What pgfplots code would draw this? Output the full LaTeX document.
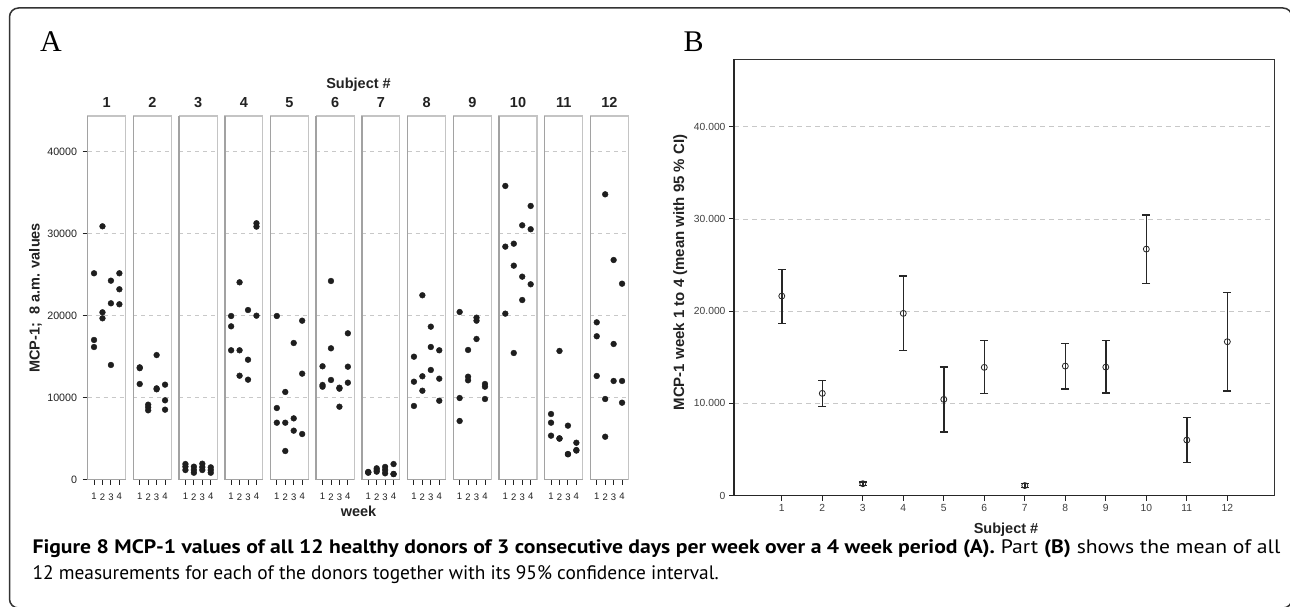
\documentclass[border=0pt]{standalone}
\usepackage{pgfplots}
\pgfplotsset{compat=1.18}
\usepackage{pgfplotstable}
\usepackage{fontspec}
\setmainfont{Liberation Sans}
\newfontfamily\letterfont{Liberation Serif}
\newfontfamily\capfont{PT Sans}

\definecolor{dotcol}{HTML}{1E1E1E}
\definecolor{framecol}{HTML}{C4C4C4}
\definecolor{frameleft}{HTML}{A2A2A2}
\definecolor{gridcol}{HTML}{C8C8C8}
\definecolor{txtcol}{HTML}{222222}

% panel A: 3 days per week x 4 weeks, one column per subject
\pgfplotstableread{
w   s1    s2    s3   s4    s5    s6    s7   s8    s9    s10   s11   s12
1 25170 13700 1910 19960 19960 13830  950 15000 20450 35820  8010 19190
1 17040 13600 1590 18700  8740 11550  900 11950  9960 28420  6950 17490
1 16180 11670 1180 15780  6950 11340  850  8990  7160 20250  5370 12650
2 30900  9150 1590 24070 10700 24230 1390 22490 15820 28780 15700 34800
2 20410  8830 1180 15780  6950 16020 1180 12610 12560 26100  5050  9840
2 19680  8460  850 12680  3500 12160  980 10850 12120 15450  5000  5240
3 24270 15200 1950 20690 16670 11220 1560 18660 19760 31020  6590 26790
3 21510 11140 1540 14630  7480 11100 1180 16180 19390 24760  3130 16550
3 13990 11020 1180 12200  5980  8900  780 13380 17160 21910  3100 12040
4 25170 11590 1510 31270 19390 17850 1910 15780 11670 33380  4510 23900
4 23220  9680 1180 30860 12930 13780  700 12320 11340 30540  3620 12040
4 21390  8540  850 20000  5570 11830  680  9630  9840 23830  3550  9390
}\dataA

% panel B: mean with 95% CI
\pgfplotstableread{
s  m     ep   em
1  21640 2890 2960
2  11090 1410 1400
3  1300  200  200
4  19760 4040 4050
5  10440 3500 3540
6  13910 2880 2860
7  1100  230  230
8  14050 2420 2490
9  13940 2850 2810
10 26730 3680 3720
11 6030  2420 2450
12 16690 5350 5350
}\dataB

\pgfplotsset{
  panelA/.style={
    scale only axis, width=38pt, height=363.7pt, anchor=south west,
    xmin=0.25, xmax=4.75, ymin=0, ymax=44350, scaled y ticks=false,
    axis line style={framecol, line width=1.1pt},
    xtick={1,2,3,4}, xticklabels={1,2,3,4},
    xtick pos=bottom, ytick pos=left, tick align=outside, major tick length=5pt,
    xtick style={txtcol, line width=0.9pt},
    xticklabel style={font=\fontsize{9.5}{10}\selectfont, text=txtcol, inner sep=0pt, yshift=-8.5pt},
    ytick={0,10000,20000,30000,40000}, yticklabels={},
    ytick style={draw=none},
    ymajorgrids, grid style={gridcol, dash pattern=on 4pt off 4pt, line width=0.7pt},
    title style={font=\fontsize{14.5}{15}\selectfont\bfseries, text=txtcol,
      at={(0.5,1)}, anchor=base, yshift=2.7pt, inner sep=0pt},
    clip=false,
  },
  panelextra/.style={},
}

\begin{document}
\begin{tikzpicture}[x=1pt,y=1pt]
\useasboundingbox (0,0) rectangle (1290,606);
\clip (0,0) rectangle (1290,606);
\fill[white] (0,0) rectangle (1290,606);
\draw[black!80, line width=1.5pt, rounded corners=9pt] (9.5,-2) rectangle (1292,598);

\node[anchor=base west, inner sep=0pt, font=\letterfont\fontsize{30}{30}\selectfont] at (40,554.3) {A};
\node[anchor=base west, inner sep=0pt, font=\letterfont\fontsize{30}{30}\selectfont] at (683.3,554.3) {B};

\foreach \i in {1,...,12}{
  \ifnum\i=1
    \pgfplotsset{panelextra/.style={
      yticklabels={0,10000,20000,30000,40000},
      ytick style={draw=txtcol, line width=0.9pt},
      yticklabel style={font=\fontsize{10.7}{12}\selectfont, text=txtcol, inner sep=0pt, xshift=-5.4pt}}}
  \fi
  \begin{axis}[panelA, panelextra, at={(87.7pt+\i*45.7pt-45.7pt,126.3pt)}, title={\i}]
    \addplot[only marks, mark=*, mark size=2.9pt, mark options={fill=dotcol, draw=dotcol}]
      table[x=w, y=s\i] {\dataA};
    \draw[frameleft, line width=1.5pt] (rel axis cs:0,1) -- (rel axis cs:0,0) -- (rel axis cs:1,0);
  \end{axis}
}

\node[anchor=base, inner sep=0pt, font=\fontsize{14.5}{15}\selectfont\bfseries, text=txtcol] at (358.5,517.3) {Subject \#};
\node[anchor=base, inner sep=0pt, font=\fontsize{14.5}{15}\selectfont\bfseries, text=txtcol] at (358.5,90) {week};
\node[anchor=base, rotate=90, inner sep=0pt, font=\fontsize{14.5}{15}\selectfont\bfseries, text=txtcol] at (39.5,308.2) {MCP-1;\ \ 8 a.m. values};

\begin{axis}[
  scale only axis, width=540.3pt, height=436.4pt,
  at={(734pt,110.3pt)}, anchor=south west,
  xmin=-0.18, xmax=13.16, ymin=0, ymax=47300, scaled y ticks=false,
  xtick={1,...,12}, ytick={0,10000,20000,30000,40000},
  yticklabels={0,10.000,20.000,30.000,40.000},
  /pgf/number format/assume math mode=true,
  tick align=outside, xtick pos=bottom, ytick pos=left, major tick length=5pt,
  tick style={txtcol, line width=0.9pt},
  ticklabel style={font=\fontsize{10.3}{11}\selectfont, text=black!75},
  ymajorgrids, grid style={gridcol, dash pattern=on 5pt off 4pt, line width=0.7pt},
  axis line style={black!80, line width=0.8pt},
  clip=false,
]
  \addplot[only marks, mark=o, mark size=3pt, mark options={black!85, line width=0.8pt},
    error bars/.cd, y dir=both, y explicit,
    error bar style={black!85, line width=1.4pt},
    error mark options={rotate=90, black!85, mark size=3.9pt, line width=1.4pt}]
    table[x=s, y=m, y error plus=ep, y error minus=em] {\dataB};
  \draw[black!85, line width=1.5pt] (rel axis cs:0,1) -- (rel axis cs:0,0) -- (rel axis cs:1,0);
\end{axis}

\node[anchor=base, inner sep=0pt, font=\fontsize{14.5}{15}\selectfont\bfseries, text=txtcol] at (1006,73) {Subject \#};
\node[anchor=base, rotate=90, inner sep=0pt, font=\fontsize{15}{15}\selectfont\bfseries, text=txtcol] at (684.2,333.5) {MCP-1 week 1 to 4 (mean with 95 \% CI)};

\node[anchor=base west, inner sep=0pt, font=\capfont\fontsize{19.5}{22}\selectfont] at (32.3,53)
  {\scalebox{1.111}[1]{\textbf{Figure 8 MCP-1 values of all 12 healthy donors of 3 consecutive days per week over a 4 week period (A).} Part \textbf{(B)} shows the mean of all}};
\node[anchor=base west, inner sep=0pt, font=\capfont\fontsize{19.5}{22}\selectfont] at (32.3,27)
  {\scalebox{0.995}[1]{12 measurements for each of the donors together with its 95\% confidence interval.}};
\end{tikzpicture}
\end{document}
